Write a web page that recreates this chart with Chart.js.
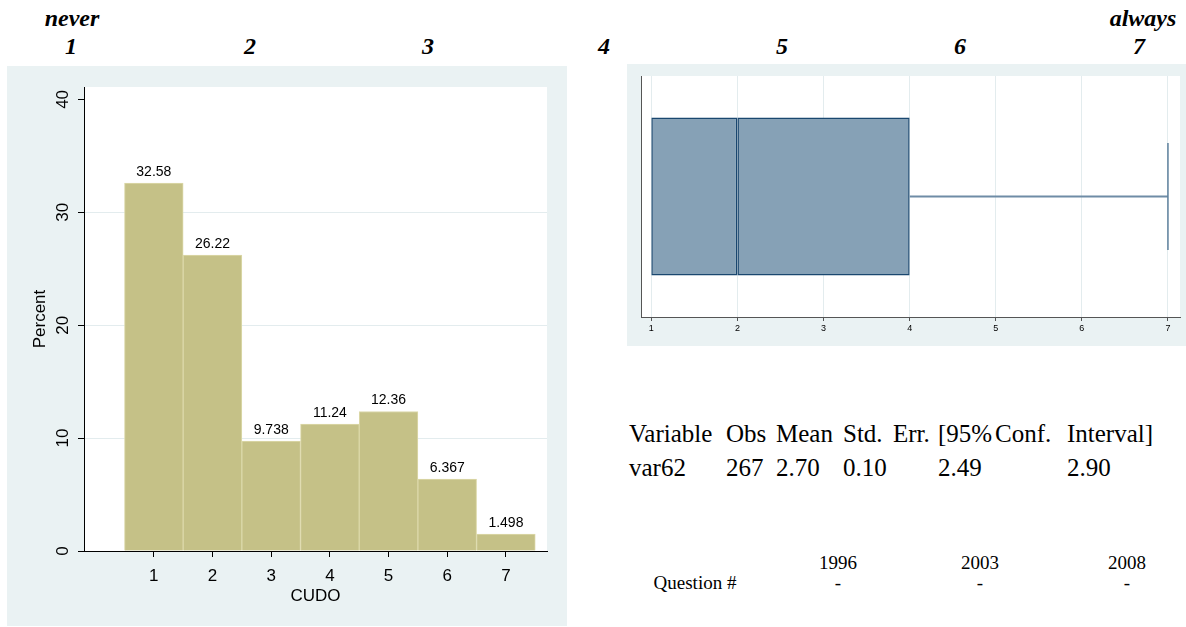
<!DOCTYPE html>
<html>
<head>
<meta charset="utf-8">
<script src="https://cdn.jsdelivr.net/npm/chart.js@4.4.1/dist/chart.umd.min.js"></script>
<style>
  body { margin: 0; background: #fff; width: 1186px; height: 627px; position: relative; overflow: hidden; }
  .hd { position: absolute; font-family: "Liberation Serif", serif; font-weight: bold; font-style: italic; font-size: 24px; transform: translate(-50%, -50%); white-space: nowrap; }
  .tx { position: absolute; font-family: "Liberation Serif", serif; font-size: 25px; white-space: nowrap; transform: translateY(-50%); }
  .sm { position: absolute; font-family: "Liberation Serif", serif; font-size: 19px; white-space: nowrap; transform: translate(-50%, -50%); }
  .panel { position: absolute; background: #eaf2f3; }
  canvas { display: block; }
</style>
</head>
<body>
<div class="panel" style="left:7px;top:66px;width:560px;height:560px"><canvas id="hist" width="560" height="560"></canvas></div>
<div class="panel" style="left:627px;top:64px;width:559px;height:282px"><canvas id="box" width="559" height="282"></canvas></div>
<div id="texts"></div>
<script>
const categories = [1, 2, 3, 4, 5, 6, 7];
const percents = [32.58, 26.22, 9.738, 11.24, 12.36, 6.367, 1.498];
const percentLabels = ['32.58', '26.22', '9.738', '11.24', '12.36', '6.367', '1.498'];
const yTicks = [0, 10, 20, 30, 40];
const scaleEnds = ['never', 'always'];

// box plot summary of the same variable
const boxMin = 1, boxQ1 = 1, boxMedian = 2, boxQ3 = 4, boxMax = 7;

const statHeader = ['Variable', 'Obs', 'Mean', 'Std.', 'Err.', '[95%', 'Conf.', 'Interval]'];
const statRow = ['var62', '267', '2.70', '0.10', '2.49', '2.90'];
const years = ['1996', '2003', '2008'];
const questionNums = ['-', '-', '-'];

const txt = document.getElementById('texts');
function put(cls, s, x, y) {
  const d = document.createElement('div');
  d.className = cls; d.textContent = s;
  d.style.left = x + 'px'; d.style.top = y + 'px';
  txt.appendChild(d);
}
// header scale labels
const headX = [71, 250, 428, 604, 782, 960, 1139];
categories.forEach((c, i) => put('hd', String(c), headX[i], 46));
put('hd', scaleEnds[0], 72, 18);
put('hd', scaleEnds[1], 1143, 18);

// stats table
const hdrX = [629, 726, 776, 843, 893, 938, 995, 1067];
statHeader.forEach((s, i) => put('tx', s, hdrX[i], 434));
const rowX = [629, 726, 776, 843, 938, 1067];
statRow.forEach((s, i) => put('tx', s, rowX[i], 468));
const yearX = [838, 980, 1127];
years.forEach((s, i) => put('sm', s, yearX[i], 563));
questionNums.forEach((s, i) => put('sm', s, yearX[i], 583));
put('sm', 'Question #', 695, 583);

Chart.defaults.font.family = '"Liberation Sans", Arial, sans-serif';
Chart.defaults.color = '#000';

const whiteArea = {
  id: 'whiteArea',
  beforeDraw(chart) {
    const a = chart.chartArea, ctx = chart.ctx;
    ctx.save();
    ctx.fillStyle = '#fff';
    ctx.fillRect(a.left, a.top, a.right - a.left, a.bottom - a.top);
    ctx.restore();
  }
};

const barLabels = {
  id: 'barLabels',
  afterDatasetsDraw(chart) {
    const ctx = chart.ctx;
    const meta = chart.getDatasetMeta(0);
    ctx.save();
    ctx.font = '14px "Liberation Sans", Arial, sans-serif';
    ctx.fillStyle = '#000';
    ctx.textAlign = 'center';
    ctx.textBaseline = 'bottom';
    meta.data.forEach((bar, i) => {
      ctx.fillText(percentLabels[i], bar.x, bar.y - 4);
    });
    ctx.restore();
  }
};

new Chart(document.getElementById('hist'), {
  type: 'bar',
  data: {
    datasets: [{
      data: categories.map((c, i) => ({ x: c, y: percents[i] })),
      backgroundColor: '#c5c187',
      borderColor: '#dcd9aa',
      borderWidth: 1,
      barPercentage: 1,
      categoryPercentage: 1
    }]
  },
  options: {
    responsive: false,
    animation: false,
    events: [],
    layout: { padding: { top: 21, right: 20, left: 0, bottom: 0 } },
    plugins: { legend: { display: false }, tooltip: { enabled: false } },
    scales: {
      x: {
        type: 'linear', min: -0.19, max: 7.7, offset: false,
        afterBuildTicks(s) { s.ticks = categories.map(v => ({ value: v })); },
        afterFit(s) { s.height = 75; },
        grid: { display: true, drawOnChartArea: false, offset: false, tickLength: 6, color: '#000' },
        border: { color: '#000' },
        ticks: { font: { size: 17 }, padding: 9 },
        title: { display: true, text: 'CUDO', font: { size: 17 }, padding: { top: 0, bottom: 19 } }
      },
      y: {
        min: 0, max: 41.1,
        afterBuildTicks(s) { s.ticks = yTicks.map(v => ({ value: v })); },
        afterFit(s) { s.width = 77; },
        grid: {
          tickLength: 6,
          color: c => (c.tick && c.tick.value > 0 && c.tick.value < 40) ? '#e3ecee' : 'rgba(0,0,0,0)',
          tickColor: '#000'
        },
        border: { color: '#000' },
        ticks: { font: { size: 17 }, minRotation: 90, maxRotation: 90, crossAlign: 'center', padding: 5 },
        title: { display: true, text: 'Percent', font: { size: 17 }, padding: { top: 23, bottom: 0 } }
      }
    }
  },
  plugins: [whiteArea, barLabels]
});

const cap = {
  id: 'cap',
  afterDatasetsDraw(chart) {
    const ctx = chart.ctx, xs = chart.scales.x, ys = chart.scales.y;
    const x = xs.getPixelForValue(boxMax);
    const yc = ys.getPixelForValue(0);
    const half = ys.height * 0.222;
    ctx.save();
    ctx.strokeStyle = '#5d7f9c';
    ctx.lineWidth = 1.5;
    ctx.beginPath();
    ctx.moveTo(x, yc - half); ctx.lineTo(x, yc + half);
    ctx.stroke();
    ctx.restore();
  }
};

const boxStyle = { backgroundColor: '#86a1b6', borderColor: '#1a476f', borderWidth: 1.5, borderSkipped: false, grouped: false, barPercentage: 0.656, categoryPercentage: 1 };
const whiskerStyle = { backgroundColor: '#6f8ca6', borderWidth: 0, grouped: false, barPercentage: 0.008, categoryPercentage: 1 };

new Chart(document.getElementById('box'), {
  type: 'bar',
  data: {
    labels: ['var62'],
    datasets: [
      Object.assign({ data: [[boxQ3, boxMax]] }, whiskerStyle),
      Object.assign({ data: [[boxMin, boxQ1]] }, whiskerStyle),
      Object.assign({ data: [[boxQ1, boxMedian]] }, boxStyle),
      Object.assign({ data: [[boxMedian, boxQ3]] }, boxStyle)
    ]
  },
  options: {
    indexAxis: 'y',
    responsive: false,
    animation: false,
    events: [],
    layout: { padding: { top: 12, right: 6, left: 0, bottom: 0 } },
    plugins: { legend: { display: false }, tooltip: { enabled: false } },
    scales: {
      x: {
        type: 'linear', min: 0.88, max: 7.14,
        afterBuildTicks(s) { s.ticks = categories.map(v => ({ value: v })); },
        afterFit(s) { s.height = 29; },
        grid: { color: '#e3ecee', tickColor: '#555', tickLength: 4 },
        border: { color: '#555' },
        ticks: { font: { size: 9 }, padding: 2 }
      },
      y: {
        afterFit(s) { s.width = 14; },
        grid: { display: false },
        border: { color: '#555' },
        ticks: { display: false }
      }
    }
  },
  plugins: [whiteArea, cap]
});
</script>
</body>
</html>
